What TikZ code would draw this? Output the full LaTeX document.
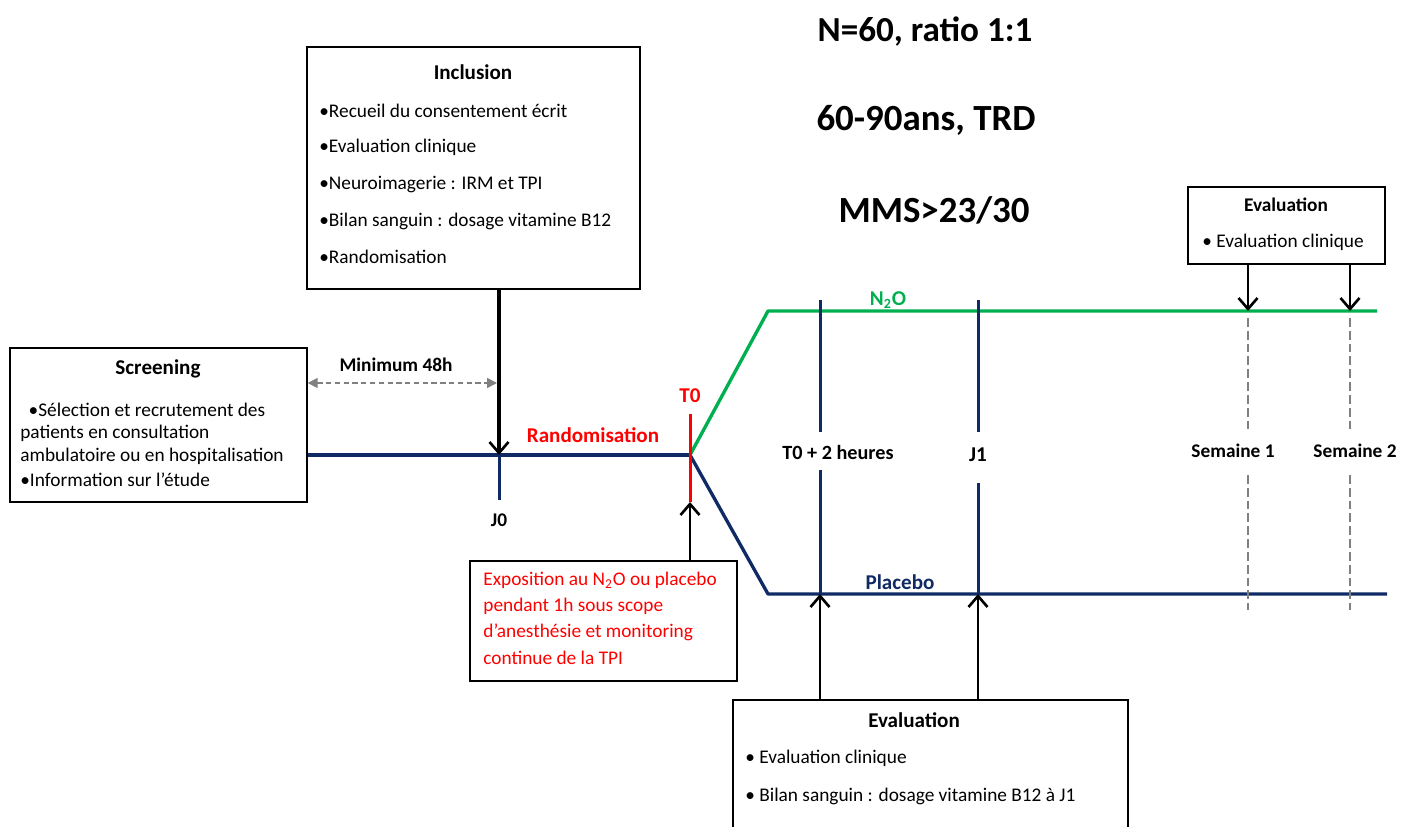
\documentclass[tikz,border=0pt]{standalone}
\usepackage{fontspec}
\setmainfont{Carlito}
\usetikzlibrary{positioning, arrows.meta, fit}
\definecolor{armnavy}{HTML}{102A66}
\definecolor{armgreen}{HTML}{00B050}
\definecolor{markred}{HTML}{FF0000}

\begin{document}
\begin{tikzpicture}[
    x=0.02cm, y=-0.02cm,
    box/.style={draw, line width=0.8pt, inner sep=0pt},
    boxtitle/.style={font=\bfseries\fontsize{12}{14}\selectfont},
    item/.style={anchor=west, inner sep=0pt, font=\fontsize{11}{13}\selectfont},
    tag/.style={font=\bfseries\fontsize{11}{13}\selectfont},
    bigtag/.style={font=\bfseries\fontsize{12}{14}\selectfont},
    headline/.style={font=\bfseries\fontsize{21}{25}\selectfont},
    axis/.style={armnavy, line width=1.9pt},
    tick/.style={armnavy, line width=1.7pt},
    push/.style={-{Straight Barb[length=2.2mm, width=3.8mm, line width=1.5pt]}, line width=1.4pt},
    weekline/.style={gray, line width=1.4pt, dash pattern=on 5pt off 2.3pt}
]
\clip (0,0) rectangle (1402,827);

% Study header
\node[headline, font=\bfseries\fontsize{20}{24}\selectfont] (hn) at (925,32) {N=60, ratio 1:1};
\node[headline] (hage) at (926,120) {60-90ans, TRD};
\node[headline] (hmms) at (934,210) {MMS>23/30};

% Screening box
\node[box, fit={(10,348) (307,502)}] (scr) {};
\node[boxtitle] at (158,369) {Screening};
\node[item] at (24,410) {\ •Sélection et recrutement des};
\node[item] at (20,433) {patients en consultation};
\node[item] at (20,456) {ambulatoire ou en hospitalisation};
\node[item] at (20,480) {•Information sur l’étude};

% Inclusion box
\node[box, fit={(307,47) (640,289)}] (incl) {};
\node[boxtitle] at (473,72) {Inclusion};
\node[item] at (319,111) {•Recueil du consentement écrit};
\node[item] at (319,147) {•Evaluation clinique};
\node[item] at (319,185) {•Neuroimagerie : IRM et TPI};
\node[item] at (319,221) {•Bilan sanguin : dosage vitamine B12};
\node[item] at (319,257) {•Randomisation};

% Exposure box
\node[box, fit={(470,561) (737,681)}] (expo) {};
\node[item, text=markred] at (483,580) {Exposition au N\textsubscript{2}O ou placebo};
\node[item, text=markred] at (483,606) {pendant 1h sous scope};
\node[item, text=markred] at (483,632) {d’anesthésie et monitoring};
\node[item, text=markred] at (483,658) {continue de la TPI};

% Evaluation boxes
\node[box, fit={(733,700) (1128,850)}] (evalb) {};
\node[boxtitle] at (914,720) {Evaluation};
\node[item] at (745,758) {• Evaluation clinique};
\node[item] at (745,796) {• Bilan sanguin : dosage vitamine B12 à J1};

\node[box, fit={(1188,187) (1385,264)}] (evalw) {};
\node[tag] at (1286,205) {Evaluation};
\node[item] at (1202,242) {• Evaluation clinique};

% Timeline points
\coordinate (j0) at (499,455);
\coordinate (t0) at (690,455);
\coordinate (t0top) at (690,414);
\coordinate (t0bot) at (690,502);
\coordinate (n2oknee) at (768,311);
\coordinate (n2oend) at (1377,311);
\coordinate (plaknee) at (768,594);
\coordinate (plaend) at (1387,594);
\coordinate (h2pla) at (820,594);
\coordinate (j1pla) at (978,594);
\coordinate (w1) at (1248,311);
\coordinate (w2) at (1350,311);

% Arms
\draw[axis] (scr.east |- j0) -- (t0);
\draw[armgreen, line width=1.9pt, line join=round] (t0) -- (n2oknee) -- (n2oend);
\draw[axis, line join=round] (t0) -- (plaknee) -- (plaend);
\draw[tick] (j0) -- (499,500);
\draw[markred, line width=1.7pt] (t0top) -- (t0bot);

% Time marks
\draw[tick] (820,300) -- (820,432);
\draw[tick] (820,470) -- (h2pla);
\draw[tick] (978,300) -- (978,432);
\draw[tick] (978,483) -- (j1pla);
\draw[weekline] (1248,318) -- (1248,430);
\draw[weekline] (1248,475) -- (1248,610);
\draw[weekline] (1350,318) -- (1350,430);
\draw[weekline] (1350,475) -- (1350,610);

% Labels
\node[tag] (lj0) at (499,520) {J0};
\node[bigtag, text=markred] (lt0) at (690,396) {T0};
\node[bigtag, text=markred] (lrand) at (593,435) {Randomisation};
\node[tag] (lmin) at (396,365) {Minimum 48h};
\node[bigtag, text=armgreen] (ln2o) at (888,300) {N\textsubscript{2}O};
\node[bigtag, text=armnavy] (lpla) at (900,582) {Placebo};
\node[tag, font=\bfseries\fontsize{11.5}{13}\selectfont] (lh2) at (838,452) {T0 + 2 heures};
\node[bigtag] (lj1) at (978,455) {J1};
\node[tag] (lsem1) at (1233,451) {Semaine 1};
\node[tag] (lsem2) at (1355,451) {Semaine 2};

% Arrows
\draw[gray, line width=1pt, dash pattern=on 3pt off 2pt, {Triangle[length=2mm, width=2mm]}-{Triangle[length=2mm, width=2mm]}] (scr.east |- 0,383) -- (497,383);
\draw[push, line width=2.3pt] (incl.south -| j0) -- (j0);
\draw[push] (expo.north -| t0) -- (t0bot);
\draw[push] (evalb.north -| h2pla) -- (h2pla);
\draw[push] (evalb.north -| j1pla) -- (j1pla);
\draw[push] (evalw.south -| w1) -- (w1);
\draw[push] (evalw.south -| w2) -- (w2);

\end{tikzpicture}
\end{document}
